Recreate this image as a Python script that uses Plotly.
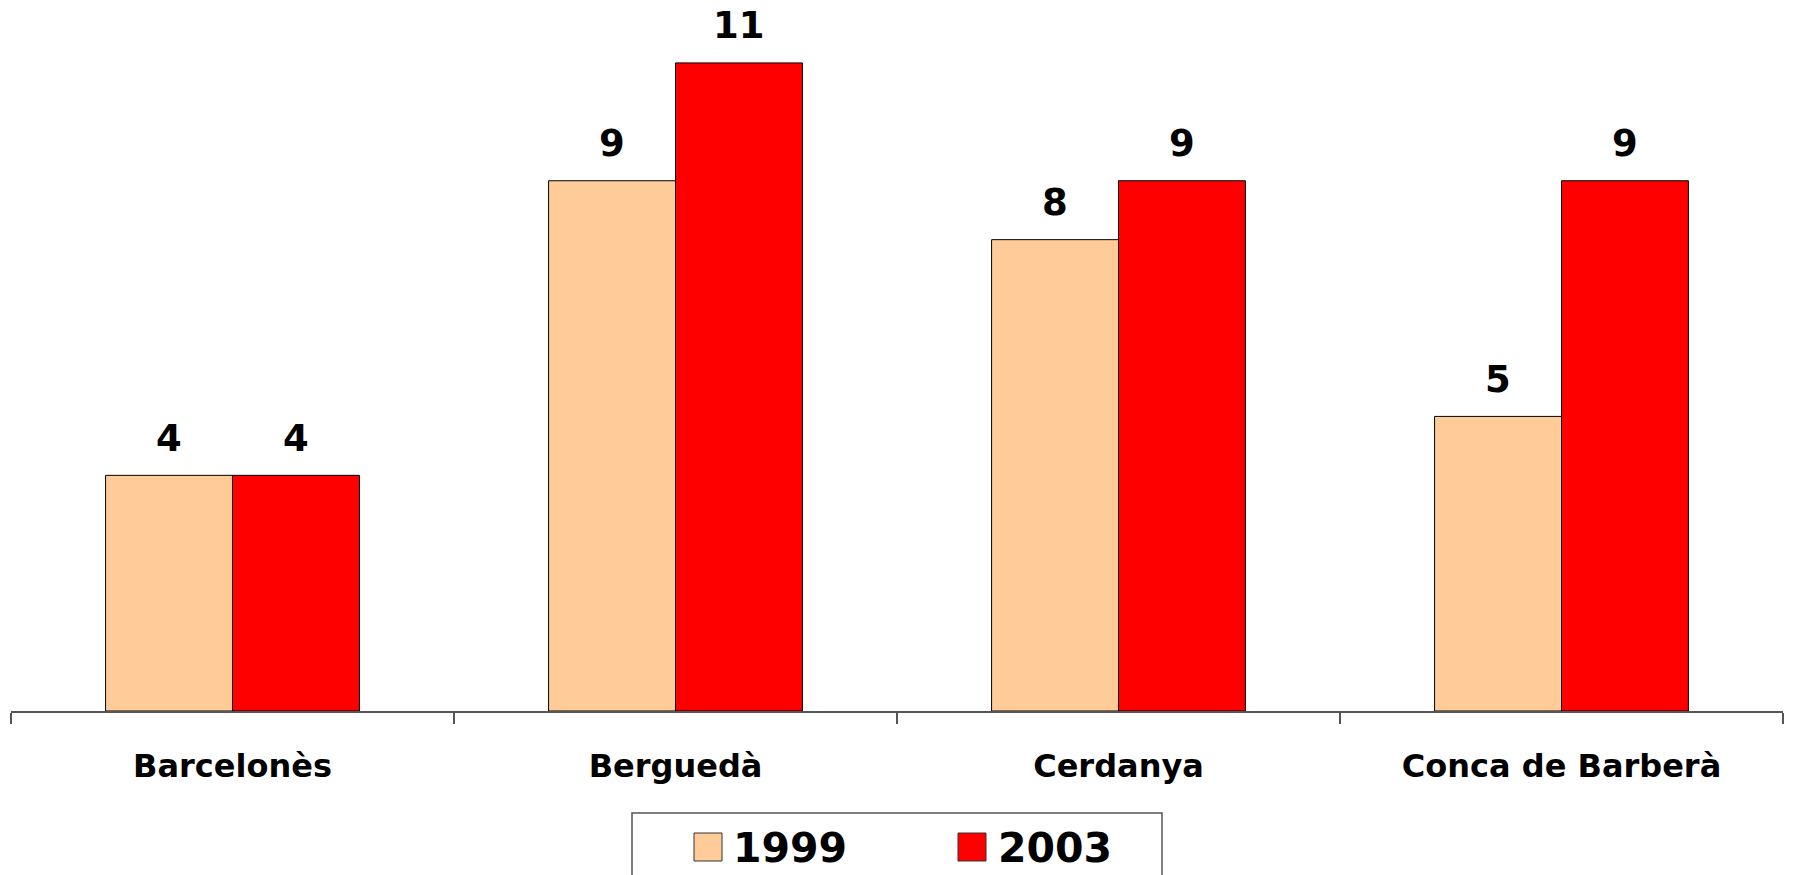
import plotly.graph_objects as go

categories = ["Barcelonès", "Berguedà", "Cerdanya", "Conca de Barberà"]
series_names = ["1999", "2003"]
values_1999 = [4, 9, 8, 5]
values_2003 = [4, 11, 9, 9]
colors = ["#FFCC99", "#FF0000"]

FONT = "DejaVu Sans"
W, H = 1793, 875
ML, MR, MT, MB = 11, 10, 4, 164
pw, ph = W - ML - MR, H - MT - MB
BARGAP = 0.427

fig = go.Figure()
all_vals = [values_1999, values_2003]
for name, vals, col in zip(series_names, all_vals, colors):
    fig.add_trace(go.Bar(
        name=name, x=categories, y=vals,
        marker=dict(color=col, line=dict(color="#000000", width=1)),
        showlegend=False,
    ))

# data labels as annotations placed above each bar of the group
bar_w = pw / len(categories) * (1 - BARGAP) / 2
annotations = []
for i, vals in enumerate(all_vals):
    off = (i - 0.5) * bar_w
    for c, v in zip(categories, vals):
        annotations.append(dict(x=c, y=v, xref="x", yref="y", text=str(v), showarrow=False,
                                xanchor="center", yanchor="middle", xshift=off, yshift=37,
                                font=dict(family=FONT, size=37, color="#000000", weight="bold")))

def px_x(p):
    return (p - ML) / pw

def px_y(p):
    return (H - MB - p) / ph

shapes = [dict(type="rect", xref="paper", yref="paper",
               x0=px_x(632), x1=px_x(1162), y0=px_y(890), y1=px_y(813),
               line=dict(color="#555555", width=1.5), fillcolor="white", layer="below")]
sw_x = [694, 958]
tx_x = [731, 996]
for name, col, sx, tx in zip(series_names, colors, sw_x, tx_x):
    shapes.append(dict(type="rect", xref="paper", yref="paper",
                       x0=px_x(sx), x1=px_x(sx + 28), y0=px_y(861), y1=px_y(833),
                       line=dict(color="#333333", width=1), fillcolor=col))
    annotations.append(dict(xref="paper", yref="paper", x=px_x(tx), y=px_y(848),
                            xanchor="left", yanchor="middle", text=name, showarrow=False,
                            font=dict(family=FONT, size=41, color="#000000", weight="bold")))

fig.update_layout(
    width=W, height=H, barmode="group", bargap=BARGAP, bargroupgap=0,
    margin=dict(l=ML, r=MR, t=MT, b=MB, autoexpand=False),
    plot_bgcolor="white", paper_bgcolor="white",
    font=dict(family=FONT, color="#000000"),
    shapes=shapes, annotations=annotations,
    xaxis=dict(showline=True, linecolor="#555555", linewidth=1.5, automargin=False,
               ticks="outside", ticklen=11, tickcolor="#555555", tickwidth=1.5,
               tickson="boundaries", showgrid=False, ticklabelstandoff=26,
               tickfont=dict(family=FONT, size=32, color="#000000", weight="bold")),
    yaxis=dict(range=[0, 12], visible=False, showgrid=False, zeroline=False, automargin=False),
)
fig.write_html("out.html", config={"displayModeBar": False},
               post_script="document.body.style.margin='0';document.body.style.overflow='hidden';")
